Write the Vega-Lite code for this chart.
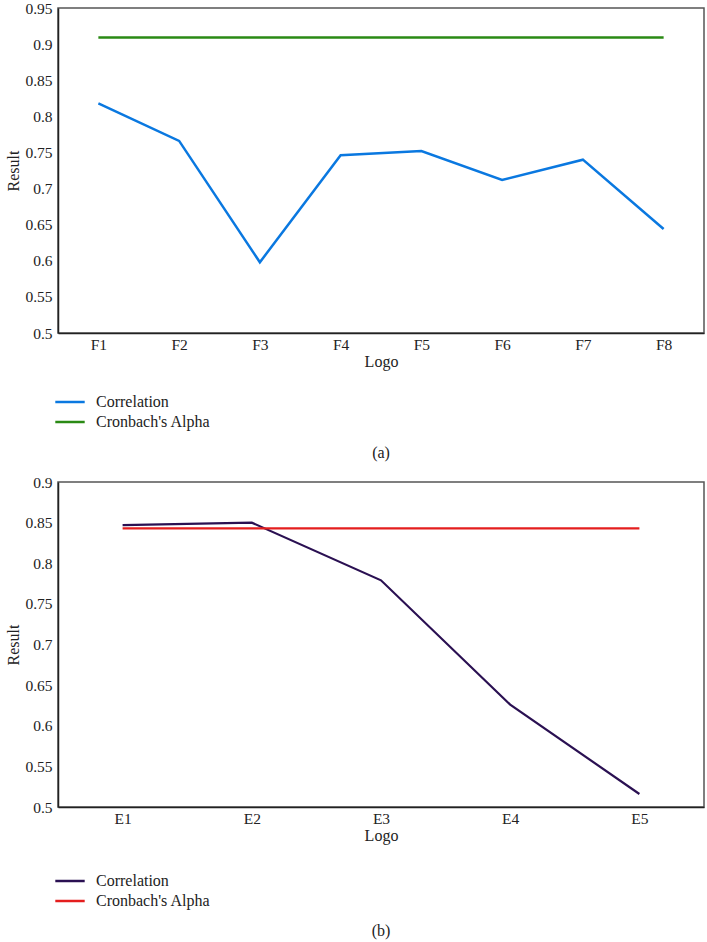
{
  "$schema": "https://vega.github.io/schema/vega-lite/v6.json",
  "padding": {"left": 5, "top": 0, "right": 1, "bottom": 0},
  "background": "white",
  "config": {
    "font": "Liberation Serif",
    "view": {"stroke": "#555555", "strokeWidth": 1.5},
    "axis": {"labelFont": "Liberation Serif", "titleFont": "Liberation Serif", "labelFontSize": 15.5, "titleFontSize": 16, "titleFontWeight": "normal", "labelColor": "#222", "titleColor": "#222", "grid": false, "ticks": false, "domainColor": "#222", "domainWidth": 1.5},
    "legend": {"labelFont": "Liberation Serif", "labelFontSize": 16, "labelColor": "#222"},
    "title": {"font": "Liberation Serif", "fontSize": 16, "fontWeight": "normal", "color": "#222"}
  },
  "datasets": {
    "a": [
      {"logo": "F1", "series": "Correlation", "value": 0.818},
      {"logo": "F2", "series": "Correlation", "value": 0.766},
      {"logo": "F3", "series": "Correlation", "value": 0.598},
      {"logo": "F4", "series": "Correlation", "value": 0.746},
      {"logo": "F5", "series": "Correlation", "value": 0.752},
      {"logo": "F6", "series": "Correlation", "value": 0.712},
      {"logo": "F7", "series": "Correlation", "value": 0.740},
      {"logo": "F8", "series": "Correlation", "value": 0.644},
      {"logo": "F1", "series": "Cronbach's Alpha", "value": 0.909},
      {"logo": "F2", "series": "Cronbach's Alpha", "value": 0.909},
      {"logo": "F3", "series": "Cronbach's Alpha", "value": 0.909},
      {"logo": "F4", "series": "Cronbach's Alpha", "value": 0.909},
      {"logo": "F5", "series": "Cronbach's Alpha", "value": 0.909},
      {"logo": "F6", "series": "Cronbach's Alpha", "value": 0.909},
      {"logo": "F7", "series": "Cronbach's Alpha", "value": 0.909},
      {"logo": "F8", "series": "Cronbach's Alpha", "value": 0.909}
    ],
    "b": [
      {"logo": "E1", "series": "Correlation", "value": 0.847},
      {"logo": "E2", "series": "Correlation", "value": 0.850},
      {"logo": "E3", "series": "Correlation", "value": 0.779},
      {"logo": "E4", "series": "Correlation", "value": 0.626},
      {"logo": "E5", "series": "Correlation", "value": 0.516},
      {"logo": "E1", "series": "Cronbach's Alpha", "value": 0.843},
      {"logo": "E2", "series": "Cronbach's Alpha", "value": 0.843},
      {"logo": "E3", "series": "Cronbach's Alpha", "value": 0.843},
      {"logo": "E4", "series": "Cronbach's Alpha", "value": 0.843},
      {"logo": "E5", "series": "Cronbach's Alpha", "value": 0.843}
    ]
  },
  "resolve": {"scale": {"color": "independent", "x": "independent", "y": "independent"}, "legend": {"color": "independent"}},
  "spacing": 12,
  "vconcat": [
    {
      "data": {"name": "a"},
      "width": 646,
      "height": 325,
      "title": {"text": "(a)", "orient": "bottom", "anchor": "middle", "offset": 15},
      "mark": {"type": "line", "strokeWidth": 2.5},
      "encoding": {
        "x": {"field": "logo", "type": "ordinal", "scale": {"type": "point", "padding": 0.5}, "axis": {"title": "Logo", "labelAngle": 0, "labelPadding": 4, "titlePadding": 1}},
        "y": {"field": "value", "type": "quantitative", "scale": {"domain": [0.5, 0.95], "nice": false, "zero": false}, "axis": {"title": "Result", "values": [0.5, 0.55, 0.6, 0.65, 0.7, 0.75, 0.8, 0.85, 0.9, 0.95], "format": ".2~f", "labelPadding": 6, "titlePadding": 3}},
        "color": {"field": "series", "type": "nominal", "scale": {"domain": ["Correlation", "Cronbach's Alpha"], "range": ["#0a78e0", "#2a8a14"]}, "legend": {"title": null, "orient": "bottom", "direction": "vertical", "symbolType": "M-1.4,0H1.4", "symbolSize": 441, "symbolStrokeWidth": 2.5, "labelOffset": 14, "rowPadding": 0, "offset": 20}}
      }
    },
    {
      "data": {"name": "b"},
      "width": 646,
      "height": 325,
      "title": {"text": "(b)", "orient": "bottom", "anchor": "middle", "offset": 14},
      "mark": {"type": "line", "strokeWidth": 2.2},
      "encoding": {
        "x": {"field": "logo", "type": "ordinal", "scale": {"type": "point", "padding": 0.5}, "axis": {"title": "Logo", "labelAngle": 0, "labelPadding": 4, "titlePadding": 1}},
        "y": {"field": "value", "type": "quantitative", "scale": {"domain": [0.5, 0.9], "nice": false, "zero": false}, "axis": {"title": "Result", "values": [0.5, 0.55, 0.6, 0.65, 0.7, 0.75, 0.8, 0.85, 0.9], "format": ".2~f", "labelPadding": 6, "titlePadding": 3}},
        "color": {"field": "series", "type": "nominal", "scale": {"domain": ["Correlation", "Cronbach's Alpha"], "range": ["#2a1052", "#e41e1e"]}, "legend": {"title": null, "orient": "bottom", "direction": "vertical", "symbolType": "M-1.4,0H1.4", "symbolSize": 441, "symbolStrokeWidth": 2.5, "labelOffset": 14, "rowPadding": 0, "offset": 25}}
      }
    }
  ]
}
